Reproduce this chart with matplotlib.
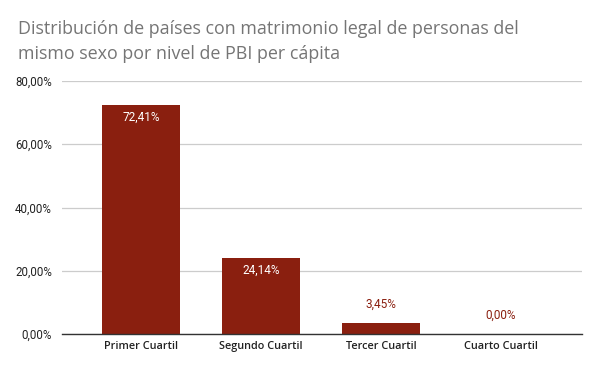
import matplotlib
matplotlib.use("Agg")
import matplotlib.pyplot as plt
from matplotlib.ticker import FuncFormatter

categorias = ["Primer Cuartil", "Segundo Cuartil", "Tercer Cuartil", "Cuarto Cuartil"]
porcentajes = [72.41, 24.14, 3.45, 0.00]
ticks_y = [0, 20, 40, 60, 80]

color_barra = "#8a1f0f"

def fmt_pct(v, pos=None):
    return f"{v:.2f}%".replace(".", ",")

fig = plt.figure(figsize=(6, 3.71), dpi=100)
ax = fig.add_axes([0.103, 0.0997, 0.867, 0.682])

x = list(range(len(categorias)))
bars = ax.bar(x, porcentajes, width=0.65, color=color_barra, zorder=3)

ax.set_xlim(-0.658, 3.675)
ax.set_ylim(0, 80)
ax.set_yticks(ticks_y)
ax.yaxis.set_major_formatter(FuncFormatter(fmt_pct))
ax.grid(axis="y", color="#cccccc", linewidth=0.9, zorder=0)

for s in ["top", "right", "left"]:
    ax.spines[s].set_visible(False)
ax.spines["bottom"].set_color("#333333")
ax.spines["bottom"].set_linewidth(1.0)
ax.spines["bottom"].set_zorder(4)

ax.tick_params(axis="y", length=0, labelsize=8.3, labelcolor="#222222", pad=7)
ax.tick_params(axis="x", length=0, labelsize=7.8, labelcolor="#222222", pad=5)
ax.set_xticks(x)
ax.set_xticklabels(categorias, family="Open Sans", fontweight="semibold")
for lab in ax.get_yticklabels():
    lab.set_family("Roboto")

for xi, v in zip(x, porcentajes):
    if v > 10:
        ax.annotate(fmt_pct(v), (xi, v), xytext=(0, -4.5), textcoords="offset points",
                    ha="center", va="top", color="white", fontsize=8.5, family="Roboto")
    else:
        ax.annotate(fmt_pct(v), (xi, v), xytext=(0, 9), textcoords="offset points",
                    ha="center", va="bottom", color=color_barra, fontsize=8.5, family="Roboto")

fig.text(0.03, 0.945, "Distribución de países con matrimonio legal de personas del\nmismo sexo por nivel de PBI per cápita",
         ha="left", va="top", fontsize=12.9, color="#757575", family="Open Sans", linespacing=1.5)

fig.savefig("out.png", dpi=100)
